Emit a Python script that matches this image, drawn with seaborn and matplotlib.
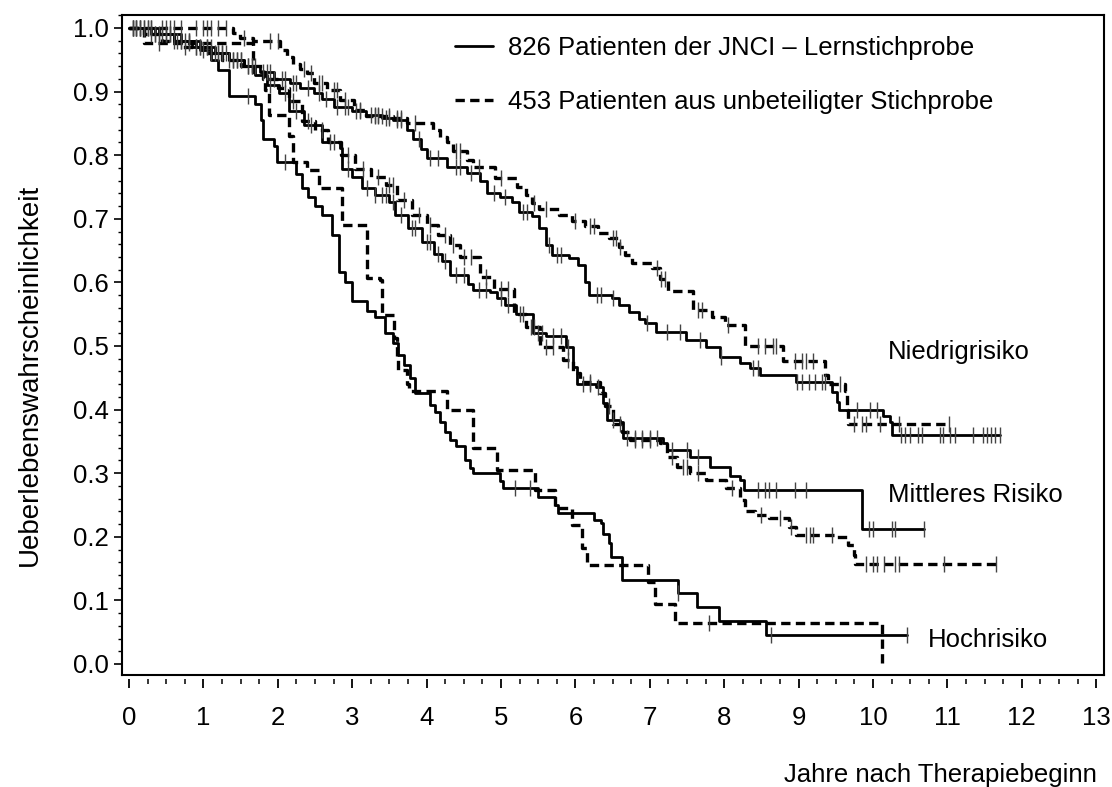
import numpy as np
import matplotlib
matplotlib.use("Agg")
import matplotlib.pyplot as plt
import seaborn as sns
from matplotlib.lines import Line2D
from matplotlib.ticker import MultipleLocator, FormatStrFormatter

# ---------------- data ----------------
# Niedrigrisiko, JNCI-Lernstichprobe (solid)
nj_t = [0, 0.35, 0.6, 0.9, 1.15, 1.35, 1.55, 1.76, 1.95, 2.16, 2.3, 2.48, 2.6, 2.75, 3.0, 3.19, 3.4,
        3.55, 3.73, 3.82, 3.92, 4.0, 4.27, 4.54, 4.72, 4.81, 4.99, 5.15, 5.24, 5.42, 5.51, 5.60, 5.69,
        5.91, 6.04, 6.13, 6.18, 6.49, 6.58, 6.72, 6.85, 6.94, 7.09, 7.49, 7.76, 7.94, 8.21, 8.35, 8.48,
        8.97, 9.45, 9.52, 9.54, 10.14, 10.23, 10.26, 11.71]
nj_s = [1.0, 0.99, 0.98, 0.97, 0.96, 0.95, 0.94, 0.931, 0.92, 0.913, 0.905, 0.897, 0.888, 0.876, 0.87,
        0.863, 0.858, 0.855, 0.84, 0.825, 0.81, 0.796, 0.782, 0.772, 0.759, 0.74, 0.735, 0.727, 0.711,
        0.704, 0.685, 0.659, 0.643, 0.638, 0.627, 0.601, 0.58, 0.575, 0.564, 0.554, 0.543, 0.536, 0.522,
        0.509, 0.499, 0.483, 0.473, 0.466, 0.454, 0.444, 0.428, 0.412, 0.400, 0.390, 0.380, 0.36, 0.36]
nj_c = [0.05, 0.1, 0.15, 0.2, 0.25, 0.3, 0.35, 0.45, 0.5, 0.55, 0.65, 0.7, 0.75, 0.8, 0.9, 0.95, 1.05,
        1.1, 1.2, 1.25, 1.3, 1.4, 1.45, 1.5, 1.6, 1.65, 1.8, 1.85, 1.9, 2.05, 2.1, 2.2, 2.25, 2.4, 2.55,
        2.65, 2.8, 2.9, 2.95, 3.05, 3.1, 3.25, 3.3, 3.35, 3.45, 3.5, 3.6, 3.65, 3.9, 4.05, 4.15, 4.4,
        4.45, 4.6, 4.9, 5.05, 5.3, 5.35, 5.65, 5.75, 5.8, 6.29, 6.35, 6.5, 6.96, 7.23, 7.4, 7.67, 7.96,
        8.39, 8.45, 8.98, 9.05, 9.14, 9.22, 9.31, 9.36, 9.79, 9.96, 10.05, 10.37, 10.43, 10.5, 10.6,
        10.66, 10.9, 10.94, 11.03, 11.1, 11.35, 11.48, 11.53, 11.59, 11.64, 11.71]

# Niedrigrisiko, unbeteiligte Stichprobe (dashed)
nu_t = [0, 1.40, 1.49, 1.67, 2.03, 2.12, 2.21, 2.30, 2.39, 2.48, 2.66, 2.84, 3.02, 3.19, 3.55, 3.73,
        4.09, 4.18, 4.27, 4.36, 4.54, 4.63, 4.92, 5.22, 5.33, 5.42, 5.51, 5.78, 5.95, 6.13, 6.30, 6.45,
        6.58, 6.67, 6.76, 7.03, 7.14, 7.25, 7.58, 7.84, 8.01, 8.28, 8.79, 9.36, 9.40, 9.62, 9.65, 9.67,
        11.02]
nu_s = [1.0, 0.992, 0.984, 0.979, 0.965, 0.955, 0.944, 0.935, 0.929, 0.913, 0.903, 0.887, 0.871, 0.862,
        0.858, 0.85, 0.84, 0.829, 0.82, 0.806, 0.792, 0.782, 0.764, 0.75, 0.737, 0.725, 0.716, 0.706,
        0.697, 0.688, 0.678, 0.669, 0.655, 0.643, 0.63, 0.622, 0.605, 0.586, 0.557, 0.546, 0.533, 0.50,
        0.476, 0.455, 0.44, 0.43, 0.40, 0.378, 0.378]
nu_c = [0.05, 0.1, 0.15, 0.3, 0.45, 0.5, 0.55, 0.6, 0.7, 0.9, 1.0, 1.05, 1.1, 1.2, 1.3, 1.55, 1.9, 2.0,
        2.35, 2.45, 2.55, 2.6, 2.75, 2.8, 2.9, 3.1, 3.3, 3.35, 3.4, 3.5, 3.6, 3.65, 3.85, 4.4, 4.45,
        4.7, 5.0, 5.45, 5.6, 6.0, 6.2, 6.25, 6.5, 6.55, 6.6, 7.1, 7.15, 7.2, 7.65, 7.7, 8.05, 8.45, 8.55,
        8.65, 8.7, 8.95, 9.05, 9.1, 9.2, 9.55, 9.75, 9.85, 9.9, 10.1, 10.35, 11.02]

# Mittleres Risiko, JNCI (solid)
mj_t = [0, 0.3, 0.6, 0.85, 1.1, 1.35, 1.55, 1.70, 1.85, 2.01, 2.15, 2.35, 2.59, 2.84, 2.86, 3.0, 3.13,
        3.3, 3.49, 3.58, 3.75, 3.94, 4.1, 4.21, 4.32, 4.55, 4.63, 4.85, 4.94, 5.05, 5.2, 5.43, 5.61, 5.88,
        5.97, 6.02, 6.28, 6.37, 6.42, 6.60, 6.64, 7.18, 7.23, 7.54, 7.81, 8.08, 8.21, 8.26, 9.85, 10.68]
mj_s = [1.0, 0.99, 0.98, 0.97, 0.96, 0.95, 0.94, 0.926, 0.91, 0.897, 0.869, 0.847, 0.821, 0.811, 0.779,
        0.765, 0.748, 0.738, 0.727, 0.706, 0.685, 0.664, 0.645, 0.633, 0.612, 0.598, 0.588, 0.585, 0.575,
        0.565, 0.55, 0.52, 0.515, 0.499, 0.467, 0.441, 0.436, 0.41, 0.384, 0.381, 0.355, 0.347, 0.336,
        0.326, 0.31, 0.295, 0.289, 0.274, 0.213, 0.213]
mj_c = [0.1, 0.25, 0.4, 0.5, 0.7, 0.8, 0.95, 1.05, 1.2, 1.25, 1.45, 1.5, 1.65, 1.9, 2.1, 2.25, 2.45,
        2.7, 2.95, 3.2, 3.3, 3.4, 3.45, 3.55, 3.65, 3.8, 3.85, 4.0, 4.05, 4.15, 4.25, 4.4, 4.5, 4.7,
        4.8, 5.0, 5.1, 5.3, 5.5, 5.55, 5.7, 5.8, 5.9, 6.1, 6.2, 6.3, 6.5, 6.7, 6.8, 6.9, 7.0, 7.1, 7.3,
        7.5, 7.65, 8.45, 8.55, 8.6, 8.7, 8.95, 9.1, 9.95, 10.0, 10.25, 10.3, 10.68]

# Mittleres Risiko, unbeteiligte Stichprobe (dashed)
mu_t = [0, 0.2, 0.45, 0.7, 1.0, 1.25, 1.5, 1.8, 2.0, 2.15, 2.33, 2.5, 2.68, 2.85, 3.04, 3.25, 3.45, 3.6,
        3.80, 4.0, 4.15, 4.32, 4.45, 4.72, 4.9, 5.17, 5.34, 5.52, 5.84, 5.97, 6.06, 6.33, 6.40, 6.51,
        6.62, 6.73, 7.14, 7.23, 7.36, 7.54, 7.76, 8.03, 8.21, 8.28, 8.42, 8.60, 8.87, 8.96, 9.49, 9.67,
        9.74, 9.76, 11.69]
mu_s = [1.0, 0.99, 0.98, 0.97, 0.96, 0.95, 0.94, 0.92, 0.905, 0.885, 0.853, 0.84, 0.821, 0.80, 0.779,
        0.765, 0.753, 0.73, 0.706, 0.69, 0.675, 0.659, 0.64, 0.609, 0.59, 0.551, 0.53, 0.499, 0.478,
        0.457, 0.444, 0.426, 0.405, 0.378, 0.365, 0.352, 0.347, 0.326, 0.31, 0.30, 0.289, 0.276, 0.258,
        0.24, 0.234, 0.229, 0.216, 0.203, 0.199, 0.187, 0.171, 0.157, 0.157]
mu_c = [0.05, 0.15, 0.3, 0.35, 0.6, 0.75, 0.9, 1.1, 1.15, 1.35, 1.4, 1.6, 1.7, 1.95, 2.2, 2.4, 2.6,
        2.75, 2.95, 3.15, 3.35, 3.5, 3.55, 3.7, 3.9, 4.05, 4.25, 4.35, 4.5, 4.6, 4.8, 5.0, 5.1, 5.25,
        5.4, 5.45, 5.6, 5.7, 5.9, 6.2, 6.45, 6.6, 6.8, 6.9, 7.0, 7.3, 7.45, 7.5, 7.65, 8.1, 8.5, 8.75,
        8.9, 9.1, 9.15, 9.2, 9.45, 9.9, 10.0, 10.05, 10.15, 10.3, 10.35, 10.95, 11.65]

# Hochrisiko, JNCI (solid)
hj_t = [0, 0.4, 0.7, 0.95, 1.1, 1.2, 1.35, 1.69, 1.78, 1.80, 1.95, 1.99, 2.25, 2.33, 2.41, 2.5, 2.6,
        2.73, 2.82, 2.9, 3.0, 3.2, 3.3, 3.44, 3.55, 3.62, 3.7, 3.78, 3.84, 4.05, 4.11, 4.18, 4.25, 4.31,
        4.40, 4.52, 4.58, 4.63, 4.99, 5.03, 5.50, 5.73, 5.76, 6.25, 6.35, 6.37, 6.45, 6.48, 6.63, 7.38,
        7.63, 7.93, 8.56, 10.46]
hj_s = [1.0, 0.99, 0.98, 0.965, 0.95, 0.934, 0.893, 0.88, 0.855, 0.825, 0.815, 0.79, 0.77, 0.748, 0.735,
        0.72, 0.706, 0.675, 0.617, 0.6, 0.57, 0.555, 0.546, 0.52, 0.505, 0.486, 0.47, 0.45, 0.426, 0.407,
        0.396, 0.38, 0.365, 0.352, 0.342, 0.32, 0.308, 0.30, 0.287, 0.276, 0.263, 0.25, 0.237, 0.226,
        0.221, 0.205, 0.19, 0.169, 0.132, 0.111, 0.09, 0.067, 0.046, 0.046]
hj_c = [0.2, 0.55, 1.0, 1.6, 2.1, 5.19, 5.39, 7.38, 8.63, 10.46]

# Hochrisiko, unbeteiligte Stichprobe (dashed)
hu_t = [0, 0.2, 1.67, 1.83, 1.88, 2.15, 2.21, 2.39, 2.55, 2.86, 3.2, 3.37, 3.4, 3.56, 3.6, 3.62, 3.74,
        3.76, 4.27, 4.63, 4.95, 5.46, 5.73, 5.96, 6.09, 6.16, 6.98, 7.07, 7.34, 10.12, 10.13]
hu_s = [1.0, 0.976, 0.93, 0.903, 0.863, 0.83, 0.79, 0.777, 0.748, 0.69, 0.607, 0.604, 0.549, 0.513,
        0.478, 0.462, 0.44, 0.43, 0.40, 0.339, 0.305, 0.273, 0.245, 0.218, 0.182, 0.156, 0.129, 0.095,
        0.064, 0.0, 0.0]
hu_c = [0.4, 0.8, 7.8]

curves = [
    (nj_t, nj_s, nj_c, "solid"),
    (nu_t, nu_s, nu_c, "dashed"),
    (mj_t, mj_s, mj_c, "solid"),
    (mu_t, mu_s, mu_c, "dashed"),
    (hj_t, hj_s, hj_c, "solid"),
    (hu_t, hu_s, hu_c, "dashed"),
]

legend_labels = ["826 Patienten der JNCI \u2013 Lernstichprobe",
                 "453 Patienten aus unbeteiligter Stichprobe"]
group_labels = ["Niedrigrisiko", "Mittleres Risiko", "Hochrisiko"]
group_pos = [(10.2, 0.49), (10.2, 0.266), (10.74, 0.038)]
x_ticks = list(range(0, 14))
y_ticks = [round(0.1 * i, 1) for i in range(11)]

# ---------------- drawing ----------------
sns.set_theme(style="white")
plt.rcParams["font.family"] = ["Liberation Sans", "DejaVu Sans"]
plt.rcParams["text.color"] = "black"
FS = 18.5
DASH = (0, (2.8, 1.6))

fig = plt.figure(figsize=(11.12, 7.87), dpi=100)
ax = fig.add_axes([122 / 1112, 1 - 675 / 787, 982 / 1112, 660 / 787])

for t, s, c, ls in curves:
    style = "-" if ls == "solid" else DASH
    lw = 2.0 if ls == "solid" else 2.4
    sns.lineplot(x=t, y=s, ax=ax, drawstyle="steps-post", estimator=None, sort=False,
                 color="black", linewidth=lw, linestyle=style)
    idx = np.searchsorted(np.asarray(t), np.asarray(c), side="right") - 1
    sns.scatterplot(x=c, y=np.asarray(s)[idx], ax=ax, marker="|", s=130, color="#444444",
                    linewidth=1.0, zorder=3)

ax.set_xlim(-0.094, 13.105)
ax.set_ylim(-0.0173, 1.0204)
ax.set_xlabel("")
ax.set_ylabel("")

for sp in ax.spines.values():
    sp.set_visible(True)
    sp.set_color("black")
    sp.set_linewidth(1.5)

# y axis
ax.set_yticks(y_ticks)
ax.yaxis.set_major_formatter(FormatStrFormatter("%.1f"))
ax.yaxis.set_minor_locator(MultipleLocator(0.02))
ax.tick_params(axis="y", which="major", left=True, direction="out", length=5.5, width=1.2,
               pad=4, labelsize=FS, colors="black")
ax.tick_params(axis="y", which="minor", left=True, direction="out", length=2.8, width=1.0,
               colors="black")
ax.tick_params(axis="x", which="both", bottom=False, labelbottom=False)

# x axis, ticks slightly detached from the frame
sec = ax.secondary_xaxis(-0.006)
sec.set_xticks(x_ticks)
sec.xaxis.set_minor_locator(MultipleLocator(0.25))
sec.spines["bottom"].set_visible(False)
sec.tick_params(axis="x", which="major", direction="out", length=6.5, width=1.3, pad=13,
                labelsize=FS, colors="black")
sec.tick_params(axis="x", which="minor", direction="out", length=3.5, width=1.1, colors="black")

# legend
handles = [Line2D([0], [0], color="black", lw=2.0, linestyle="-"),
           Line2D([0], [0], color="black", lw=2.4, linestyle=DASH)]
leg = ax.legend(handles, legend_labels, loc="upper left", bbox_to_anchor=(0.339, 0.968),
                frameon=False, fontsize=FS, handlelength=1.48, handletextpad=0.58,
                labelspacing=1.15, borderpad=0, borderaxespad=0)
for txt in leg.get_texts():
    txt.set_color("black")

# group labels
for lab, (gx, gy) in zip(group_labels, group_pos):
    ax.text(gx, gy, lab, ha="left", va="center", fontsize=FS, color="black")

# axis titles
fig.text(30 / 1112, 1 - 375 / 787, "Ueberlebenswahrscheinlichkeit", rotation=90,
         ha="center", va="center", fontsize=20, color="black")
fig.text(1097 / 1112, 1 - 775 / 787, "Jahre nach Therapiebeginn", ha="right", va="center",
         fontsize=FS, color="black")

fig.savefig("out.png", dpi=100)
